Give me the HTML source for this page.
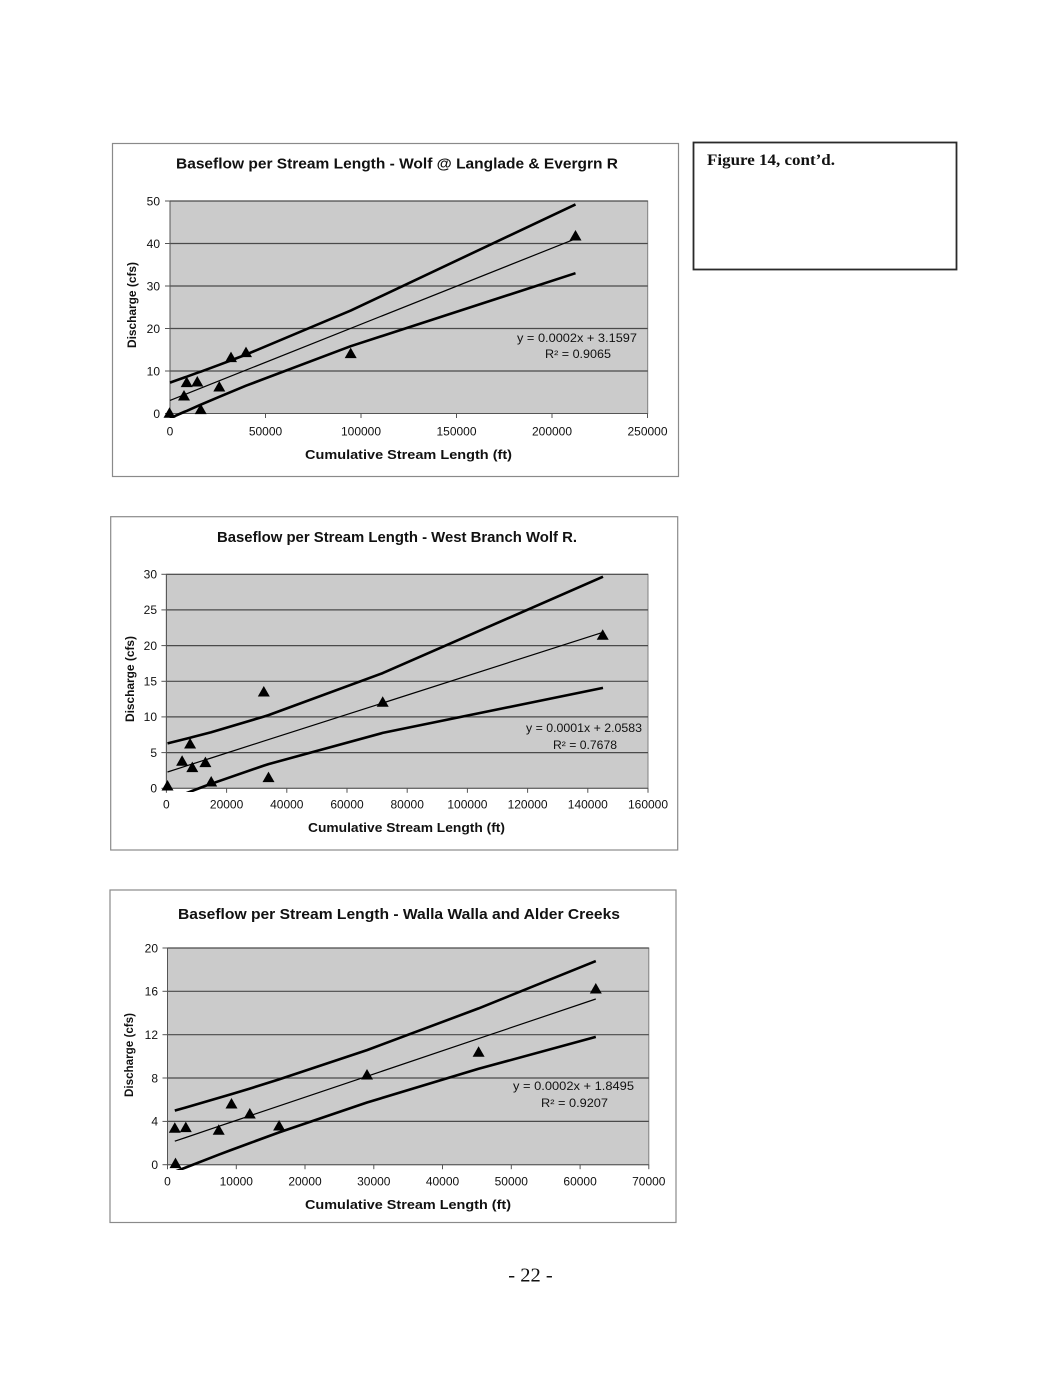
<!DOCTYPE html>
<html>
<head>
<meta charset="utf-8">
<style>
html,body{margin:0;padding:0;background:#ffffff;}
svg{display:block;}
.t{font-family:"Liberation Sans",Arial,sans-serif;fill:#111;}
.b{font-weight:bold;}
.s{font-family:"Liberation Serif","Times New Roman",serif;fill:#111;}
</style>
</head>
<body>
<svg width="1055" height="1379" viewBox="0 0 1055 1379" xmlns="http://www.w3.org/2000/svg">
<defs>
<clipPath id="c1"><rect x="160" y="190" width="500" height="228"/></clipPath>
<clipPath id="c2"><rect x="160" y="565" width="500" height="227"/></clipPath>
<clipPath id="c3"><rect x="160" y="940" width="500" height="230"/></clipPath>
<polygon id="tri" points="-6,4.8 6,4.8 0,-5.7"/>
</defs>

<!-- Figure box -->
<rect x="693.5" y="142.5" width="263" height="127" fill="#fff" stroke="#2a2a2a" stroke-width="1.8"/>
<text class="s b" x="707" y="165" font-size="16" textLength="128" lengthAdjust="spacingAndGlyphs">Figure 14, cont’d.</text>

<!-- ================= CHART 1 ================= -->
<rect x="112.5" y="143.5" width="566" height="333" fill="#fff" stroke="#8a8a8a" stroke-width="1.2"/>
<text class="t b" x="176" y="168.5" font-size="15" textLength="442" lengthAdjust="spacingAndGlyphs">Baseflow per Stream Length - Wolf @ Langlade &amp; Evergrn R</text>
<rect x="170" y="201" width="477.7" height="212.5" fill="#cbcbcb" stroke="#808080" stroke-width="1"/>
<g stroke="#4a4a4a" stroke-width="1.2">
<line x1="170" y1="371" x2="647.7" y2="371"/>
<line x1="170" y1="328.5" x2="647.7" y2="328.5"/>
<line x1="170" y1="286" x2="647.7" y2="286"/>
<line x1="170" y1="243.5" x2="647.7" y2="243.5"/>
<line x1="170" y1="201" x2="647.7" y2="201"/>
</g>
<g stroke="#555" stroke-width="1">
<line x1="170" y1="201" x2="170" y2="413.5"/>
<line x1="170" y1="413.5" x2="647.7" y2="413.5"/>
<line x1="165" y1="413.5" x2="170" y2="413.5"/>
<line x1="165" y1="371" x2="170" y2="371"/>
<line x1="165" y1="328.5" x2="170" y2="328.5"/>
<line x1="165" y1="286" x2="170" y2="286"/>
<line x1="165" y1="243.5" x2="170" y2="243.5"/>
<line x1="165" y1="201" x2="170" y2="201"/>
<line x1="170" y1="413.5" x2="170" y2="418"/>
<line x1="265.5" y1="413.5" x2="265.5" y2="418"/>
<line x1="361" y1="413.5" x2="361" y2="418"/>
<line x1="456.5" y1="413.5" x2="456.5" y2="418"/>
<line x1="552" y1="413.5" x2="552" y2="418"/>
<line x1="647.5" y1="413.5" x2="647.5" y2="418"/>
</g>
<g class="t" font-size="12" text-anchor="end">
<text x="160" y="417.8">0</text>
<text x="160" y="375.3">10</text>
<text x="160" y="332.8">20</text>
<text x="160" y="290.3">30</text>
<text x="160" y="247.8">40</text>
<text x="160" y="205.3">50</text>
</g>
<g class="t" font-size="12" text-anchor="middle">
<text x="170" y="435.5">0</text>
<text x="265.5" y="435.5">50000</text>
<text x="361" y="435.5">100000</text>
<text x="456.5" y="435.5">150000</text>
<text x="552" y="435.5">200000</text>
<text x="647.5" y="435.5">250000</text>
</g>
<text class="t b" x="305" y="459" font-size="13" textLength="207" lengthAdjust="spacingAndGlyphs">Cumulative Stream Length (ft)</text>
<text class="t b" font-size="11.5" text-anchor="middle" transform="translate(136,305) rotate(-90)" textLength="86" lengthAdjust="spacingAndGlyphs">Discharge (cfs)</text>
<g clip-path="url(#c1)" fill="none" stroke="#000" stroke-linejoin="round">
<polyline stroke-width="2.6" points="170,382.6 184,377.6 186.7,376.7 197.3,372.8 200.7,371.7 219.3,364.8 231,360.4 246,354.6 350.7,310.6 575.5,204.4"/>
<polyline stroke-width="1.2" points="170,400.4 575.5,238.8"/>
<polyline stroke-width="2.6" points="170,418.2 184,412 186.7,410.9 197.3,406.2 200.7,404.7 219.3,396.8 231,391.9 246,385.7 350.7,346.2 575.5,273.2"/>
</g>
<g fill="#000">
<use href="#tri" x="169.5" y="413"/>
<use href="#tri" x="184" y="395.7"/>
<use href="#tri" x="186.7" y="382.3"/>
<use href="#tri" x="197.3" y="381.7"/>
<use href="#tri" x="200.7" y="409.3"/>
<use href="#tri" x="219.3" y="386.7"/>
<use href="#tri" x="231" y="357.3"/>
<use href="#tri" x="246" y="352.3"/>
<use href="#tri" x="350.7" y="353.3"/>
<use href="#tri" x="575.5" y="235.7"/>
</g>
<text class="t" x="517" y="342" font-size="11.5" textLength="120" lengthAdjust="spacingAndGlyphs">y = 0.0002x + 3.1597</text>
<text class="t" x="545" y="358" font-size="11.5" textLength="66" lengthAdjust="spacingAndGlyphs">R² = 0.9065</text>

<!-- ================= CHART 2 ================= -->
<rect x="110.7" y="516.7" width="567" height="333.3" fill="#fff" stroke="#8a8a8a" stroke-width="1.2"/>
<text class="t b" x="217" y="542" font-size="15" textLength="360" lengthAdjust="spacingAndGlyphs">Baseflow per Stream Length - West Branch Wolf R.</text>
<rect x="166.4" y="574.3" width="481.6" height="214" fill="#cbcbcb" stroke="#808080" stroke-width="1"/>
<g stroke="#4a4a4a" stroke-width="1.2">
<line x1="166.4" y1="752.6" x2="648" y2="752.6"/>
<line x1="166.4" y1="716.9" x2="648" y2="716.9"/>
<line x1="166.4" y1="681.3" x2="648" y2="681.3"/>
<line x1="166.4" y1="645.6" x2="648" y2="645.6"/>
<line x1="166.4" y1="609.9" x2="648" y2="609.9"/>
<line x1="166.4" y1="574.3" x2="648" y2="574.3"/>
</g>
<g stroke="#555" stroke-width="1">
<line x1="166.4" y1="574.3" x2="166.4" y2="788.3"/>
<line x1="166.4" y1="788.3" x2="648" y2="788.3"/>
<line x1="161.4" y1="788.3" x2="166.4" y2="788.3"/>
<line x1="161.4" y1="752.6" x2="166.4" y2="752.6"/>
<line x1="161.4" y1="716.9" x2="166.4" y2="716.9"/>
<line x1="161.4" y1="681.3" x2="166.4" y2="681.3"/>
<line x1="161.4" y1="645.6" x2="166.4" y2="645.6"/>
<line x1="161.4" y1="609.9" x2="166.4" y2="609.9"/>
<line x1="161.4" y1="574.3" x2="166.4" y2="574.3"/>
<line x1="166.4" y1="788.3" x2="166.4" y2="792.8"/>
<line x1="226.6" y1="788.3" x2="226.6" y2="792.8"/>
<line x1="286.8" y1="788.3" x2="286.8" y2="792.8"/>
<line x1="347" y1="788.3" x2="347" y2="792.8"/>
<line x1="407.2" y1="788.3" x2="407.2" y2="792.8"/>
<line x1="467.4" y1="788.3" x2="467.4" y2="792.8"/>
<line x1="527.6" y1="788.3" x2="527.6" y2="792.8"/>
<line x1="587.8" y1="788.3" x2="587.8" y2="792.8"/>
<line x1="648" y1="788.3" x2="648" y2="792.8"/>
</g>
<g class="t" font-size="12" text-anchor="end">
<text x="157" y="792.6">0</text>
<text x="157" y="756.9">5</text>
<text x="157" y="721.2">10</text>
<text x="157" y="685.6">15</text>
<text x="157" y="649.9">20</text>
<text x="157" y="614.2">25</text>
<text x="157" y="578.6">30</text>
</g>
<g class="t" font-size="12" text-anchor="middle">
<text x="166.4" y="808.5">0</text>
<text x="226.6" y="808.5">20000</text>
<text x="286.8" y="808.5">40000</text>
<text x="347" y="808.5">60000</text>
<text x="407.2" y="808.5">80000</text>
<text x="467.4" y="808.5">100000</text>
<text x="527.6" y="808.5">120000</text>
<text x="587.8" y="808.5">140000</text>
<text x="648" y="808.5">160000</text>
</g>
<text class="t b" x="308" y="832" font-size="13" textLength="197" lengthAdjust="spacingAndGlyphs">Cumulative Stream Length (ft)</text>
<text class="t b" font-size="11.5" text-anchor="middle" transform="translate(134,679) rotate(-90)" textLength="86" lengthAdjust="spacingAndGlyphs">Discharge (cfs)</text>
<g clip-path="url(#c2)" fill="none" stroke="#000" stroke-linejoin="round">
<polyline stroke-width="2.6" points="167.5,743.4 182.1,739.8 190.1,737.7 192.3,737.1 205.4,733.7 211.2,732.2 263.8,716.6 268.5,715.1 382.7,673.1 603,576.7"/>
<polyline stroke-width="1.2" points="167.5,772 182.1,767.3 190.1,764.7 192.3,764 205.4,759.8 211.2,758 263.8,741.1 268.5,739.6 382.7,703 603,632.3"/>
<polyline stroke-width="2.6" points="167.5,800.6 182.1,794.8 190.1,791.7 192.3,790.9 205.4,785.9 211.2,783.8 263.8,765.6 268.5,764.1 382.7,732.9 603,687.9"/>
</g>
<g fill="#000">
<use href="#tri" x="167.5" y="785.7"/>
<use href="#tri" x="182.1" y="761"/>
<use href="#tri" x="190.1" y="743.7"/>
<use href="#tri" x="192.3" y="767.3"/>
<use href="#tri" x="205.4" y="762.3"/>
<use href="#tri" x="211.2" y="781.7"/>
<use href="#tri" x="263.8" y="691.7"/>
<use href="#tri" x="268.5" y="777.3"/>
<use href="#tri" x="382.7" y="702"/>
<use href="#tri" x="602.7" y="635"/>
</g>
<text class="t" x="526" y="732" font-size="11.5" textLength="116" lengthAdjust="spacingAndGlyphs">y = 0.0001x + 2.0583</text>
<text class="t" x="553" y="749" font-size="11.5" textLength="64" lengthAdjust="spacingAndGlyphs">R² = 0.7678</text>

<!-- ================= CHART 3 ================= -->
<rect x="110" y="890" width="566" height="332.5" fill="#fff" stroke="#8a8a8a" stroke-width="1.2"/>
<text class="t b" x="178" y="919" font-size="15" textLength="442" lengthAdjust="spacingAndGlyphs">Baseflow per Stream Length  - Walla Walla and Alder Creeks</text>
<rect x="167.5" y="948" width="481.3" height="216.7" fill="#cbcbcb" stroke="#808080" stroke-width="1"/>
<g stroke="#4a4a4a" stroke-width="1.2">
<line x1="167.5" y1="1121.4" x2="648.8" y2="1121.4"/>
<line x1="167.5" y1="1078" x2="648.8" y2="1078"/>
<line x1="167.5" y1="1034.7" x2="648.8" y2="1034.7"/>
<line x1="167.5" y1="991.3" x2="648.8" y2="991.3"/>
<line x1="167.5" y1="948" x2="648.8" y2="948"/>
</g>
<g stroke="#555" stroke-width="1">
<line x1="167.5" y1="948" x2="167.5" y2="1164.7"/>
<line x1="167.5" y1="1164.7" x2="648.8" y2="1164.7"/>
<line x1="162.5" y1="1164.7" x2="167.5" y2="1164.7"/>
<line x1="162.5" y1="1121.4" x2="167.5" y2="1121.4"/>
<line x1="162.5" y1="1078" x2="167.5" y2="1078"/>
<line x1="162.5" y1="1034.7" x2="167.5" y2="1034.7"/>
<line x1="162.5" y1="991.3" x2="167.5" y2="991.3"/>
<line x1="162.5" y1="948" x2="167.5" y2="948"/>
<line x1="167.5" y1="1164.7" x2="167.5" y2="1169.2"/>
<line x1="236.3" y1="1164.7" x2="236.3" y2="1169.2"/>
<line x1="305" y1="1164.7" x2="305" y2="1169.2"/>
<line x1="373.8" y1="1164.7" x2="373.8" y2="1169.2"/>
<line x1="442.5" y1="1164.7" x2="442.5" y2="1169.2"/>
<line x1="511.3" y1="1164.7" x2="511.3" y2="1169.2"/>
<line x1="580.1" y1="1164.7" x2="580.1" y2="1169.2"/>
<line x1="648.8" y1="1164.7" x2="648.8" y2="1169.2"/>
</g>
<g class="t" font-size="12" text-anchor="end">
<text x="158" y="1169">0</text>
<text x="158" y="1125.7">4</text>
<text x="158" y="1082.3">8</text>
<text x="158" y="1039">12</text>
<text x="158" y="995.6">16</text>
<text x="158" y="952.3">20</text>
</g>
<g class="t" font-size="12" text-anchor="middle">
<text x="167.5" y="1185.5">0</text>
<text x="236.3" y="1185.5">10000</text>
<text x="305" y="1185.5">20000</text>
<text x="373.8" y="1185.5">30000</text>
<text x="442.5" y="1185.5">40000</text>
<text x="511.3" y="1185.5">50000</text>
<text x="580.1" y="1185.5">60000</text>
<text x="648.8" y="1185.5">70000</text>
</g>
<text class="t b" x="305" y="1209" font-size="13" textLength="206" lengthAdjust="spacingAndGlyphs">Cumulative Stream Length (ft)</text>
<text class="t b" font-size="11.5" text-anchor="middle" transform="translate(133,1055) rotate(-90)" textLength="84" lengthAdjust="spacingAndGlyphs">Discharge (cfs)</text>
<g clip-path="url(#c3)" fill="none" stroke="#000" stroke-linejoin="round">
<polyline stroke-width="2.6" points="174.8,1110.6 175.5,1110.4 185.8,1107.5 218.7,1097.9 231.5,1094.1 249.8,1088.6 279.1,1079.4 367,1050.1 478.6,1008.4 595.8,961.1"/>
<polyline stroke-width="1.2" points="174.8,1141.2 175.5,1140.9 185.8,1137.5 218.7,1126.3 231.5,1122 249.8,1115.8 279.1,1105.9 367,1076.3 478.6,1038.6 595.8,999"/>
<polyline stroke-width="2.6" points="174.8,1171.8 175.5,1171.4 185.8,1167.5 218.7,1154.7 231.5,1149.9 249.8,1143.1 279.1,1132.4 367,1102.5 478.6,1068.8 595.8,1036.9"/>
</g>
<g fill="#000">
<use href="#tri" x="174.8" y="1128"/>
<use href="#tri" x="175.5" y="1163.3"/>
<use href="#tri" x="185.8" y="1127.3"/>
<use href="#tri" x="218.7" y="1130"/>
<use href="#tri" x="231.5" y="1103.7"/>
<use href="#tri" x="249.8" y="1113.7"/>
<use href="#tri" x="279.1" y="1125.7"/>
<use href="#tri" x="367" y="1074.7"/>
<use href="#tri" x="478.6" y="1052"/>
<use href="#tri" x="595.8" y="988.7"/>
</g>
<text class="t" x="513" y="1090" font-size="11.5" textLength="121" lengthAdjust="spacingAndGlyphs">y = 0.0002x + 1.8495</text>
<text class="t" x="541" y="1107" font-size="11.5" textLength="67" lengthAdjust="spacingAndGlyphs">R² = 0.9207</text>

<!-- Page number -->
<text class="s" x="508.3" y="1281.7" font-size="19.5" textLength="44.4" lengthAdjust="spacingAndGlyphs">- 22 -</text>
</svg>
</body>
</html>
